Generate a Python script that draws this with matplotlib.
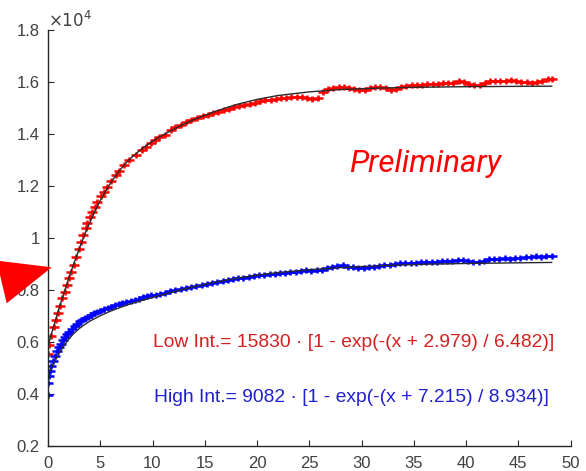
import matplotlib
matplotlib.use("Agg")
import matplotlib.pyplot as plt
from matplotlib.path import Path
from matplotlib.patches import Polygon

# ---- data ----
red_x = [0.0, 0.1, 0.25, 0.57, 0.73, 0.96, 1.15, 1.37, 1.6, 1.8, 2.0, 2.23, 2.5, 2.7, 2.97,
         3.13, 3.38, 3.6, 3.77, 4.0, 4.25, 4.47, 4.73, 5.05, 5.36, 5.68, 6.0, 6.5, 6.8, 7.3,
         7.75, 8.4, 9.0, 9.4, 9.83, 10.2, 10.6, 11.2, 11.75, 12.2, 12.7, 13.2, 13.7, 14.3,
         14.8, 15.3, 15.8, 16.3, 16.8, 17.3, 17.8,
         18.3, 18.8, 19.3, 19.8, 20.3, 20.8, 21.3, 21.8, 22.3, 22.8, 23.3, 23.8, 24.3, 24.8,
         25.3, 25.8, 26.3, 26.8, 27.3, 27.8, 28.3, 28.8, 29.3, 29.8, 30.3, 30.8, 31.3, 31.8,
         32.3, 32.8, 33.3, 33.8, 34.3, 34.8, 35.3, 35.8, 36.3, 36.8, 37.3, 37.8, 38.3, 38.8,
         39.3, 39.8, 40.3, 40.8, 41.3, 41.8, 42.3, 42.8, 43.3, 43.8, 44.3, 44.8, 45.3, 45.8,
         46.3, 46.8, 47.3, 47.8, 48.2]
red_y = [5540, 5900, 6230, 6570, 6850, 7130, 7380, 7680, 7930, 8190, 8450, 8700, 8960, 9280, 9560,
         9860, 10120, 10370, 10590, 10820, 11010, 11200, 11400, 11620, 11780, 11970, 12200, 12420, 12590, 12810,
         13000, 13190, 13380, 13500, 13640, 13760, 13900, 13980, 14150, 14250, 14350, 14450, 14540, 14600,
         14680, 14740, 14800, 14860, 14920, 14970, 15020,
         15070, 15120, 15170, 15210, 15250, 15290, 15320, 15350, 15380, 15400, 15420, 15440, 15440, 15400,
         15360, 15380, 15620, 15740, 15780, 15810, 15820, 15780, 15730, 15710, 15690, 15750, 15800, 15820,
         15750, 15690, 15720, 15800, 15860, 15880, 15880, 15900, 15910, 15920, 15930, 15950, 15960, 15980,
         16030, 16000, 15940, 15900, 15880, 15950, 16020, 16040, 16030, 16050, 16080, 16040, 16010, 16000,
         15980, 16000, 16040, 16100, 16120]

blue_x = [0.0, 0.0, 0.1, 0.2, 0.3, 0.45, 0.65, 0.85, 1.05, 1.25, 1.45, 1.65, 1.85, 2.05, 2.3,
          2.55, 2.8, 3.05, 3.3, 3.55, 3.8, 4.1, 4.4, 4.7, 5.0, 5.35, 5.7, 6.05, 6.4, 6.75,
          7.1, 7.5, 7.9, 8.3, 8.7, 9.1, 9.5, 9.9, 10.3, 10.7, 11.2, 11.7, 12.2, 12.7, 13.2,
          13.7, 14.2, 14.7, 15.2, 15.7, 16.2, 16.7, 17.2, 17.7, 18.2, 18.7, 19.2, 19.7, 20.2,
          20.7, 21.2, 21.7, 22.2, 22.7, 23.2, 23.7, 24.2, 24.7, 25.2, 25.7, 26.2, 26.7, 27.2,
          27.7, 28.2, 28.7, 29.2, 29.7, 30.2, 30.7, 31.2, 31.7, 32.2, 32.7, 33.2, 33.7, 34.2,
          34.7, 35.2, 35.7, 36.2, 36.7, 37.2, 37.7, 38.2, 38.7, 39.2, 39.7, 40.2, 40.7, 41.2,
          41.7, 42.2, 42.7, 43.2, 43.7, 44.2, 44.7, 45.2, 45.7, 46.2, 46.7, 47.2, 47.7, 48.2]
blue_y = [3960, 4440, 4700, 4900, 5090, 5280, 5480, 5650, 5800, 5940, 6070, 6190, 6300, 6400, 6510,
          6610, 6700, 6790, 6860, 6920, 6980, 7040, 7100, 7150, 7200, 7260, 7310, 7360, 7410, 7450,
          7490, 7540, 7580, 7630, 7670, 7720, 7760, 7790, 7820, 7860, 7900, 7950, 8000, 8050, 8080,
          8120, 8150, 8190, 8230, 8270, 8310, 8350, 8390, 8420, 8450, 8480, 8510, 8540, 8560,
          8590, 8610, 8630, 8650, 8670, 8690, 8700, 8730, 8760, 8750, 8760, 8780, 8830, 8900,
          8930, 8950, 8890, 8870, 8860, 8860, 8870, 8900, 8930, 8960, 8980, 9000, 9030, 9020,
          9040, 9050, 9060, 9070, 9080, 9090, 9100, 9100, 9130, 9160, 9140, 9100, 9070, 9070,
          9120, 9180, 9200, 9210, 9220, 9200, 9230, 9250, 9270, 9270, 9290, 9280, 9300, 9310]

# fitted curves as drawn on the chart
low_fit_x = [0, 0.5, 1, 1.5, 2, 2.5, 3, 3.5, 4, 4.5, 5, 5.5, 6, 6.5, 7, 7.5, 8, 9, 10, 11,
             12, 13, 14, 16, 18, 20, 22, 25, 28, 32, 36, 40, 44, 48.2]
low_fit_y = [5850, 6550, 7220, 7860, 8470, 9050, 9600, 10120, 10600, 11040, 11440, 11800,
             12120, 12410, 12670, 12900, 13100, 13440, 13720, 13960, 14180, 14380, 14560,
             14870, 15130, 15330, 15480, 15620, 15710, 15770, 15800, 15820, 15830, 15840]
high_fit_x = [0.2, 0.5, 1, 1.5, 2, 2.5, 3, 3.5, 4, 5, 6, 7, 8, 9, 10, 12, 14, 16, 18, 20,
              22, 25, 28, 32, 36, 40, 44, 48.2]
high_fit_y = [4900, 5150, 5520, 5850, 6120, 6340, 6520, 6670, 6800, 7010, 7190, 7340, 7480,
              7600, 7710, 7930, 8130, 8300, 8450, 8570, 8670, 8780, 8860, 8940, 8990, 9020,
              9040, 9060]

x_ticks = [0, 5, 10, 15, 20, 25, 30, 35, 40, 45, 50]
y_ticks = [2000, 4000, 6000, 8000, 10000, 12000, 14000, 16000, 18000]
y_tick_labels = ["0.2", "0.4", "0.6", "0.8", "1", "1.2", "1.4", "1.6", "1.8"]

low_label = "Low Int.= 15830 · [1 - exp(-(x + 2.979) / 6.482)]"
high_label = "High Int.= 9082 · [1 - exp(-(x + 7.215) / 8.934)]"

# ---- figure ----
W, H = 586, 471
fig = plt.figure(figsize=(W / 100, H / 100), dpi=100)
ax = fig.add_axes([48 / W, 1 - 446 / H, 522.5 / W, 416 / H])

plus_wide = Path([(-1, 0), (1, 0), (0, -0.6), (0, 0.6)],
                 [Path.MOVETO, Path.LINETO, Path.MOVETO, Path.LINETO])

ax.plot(red_x, red_y, linestyle="none", marker=plus_wide, markersize=7,
        markeredgewidth=1.8, color="#ff0000", zorder=2)
ax.plot(blue_x, blue_y, linestyle="none", marker=plus_wide, markersize=7,
        markeredgewidth=1.8, color="#0000ff", zorder=2)

ax.plot(low_fit_x, low_fit_y, color="#2a2a2a", lw=1.0, zorder=3)
ax.plot(high_fit_x, high_fit_y, color="#2a2a2a", lw=1.0, zorder=3)

ax.set_xlim(0, 50)
ax.set_ylim(2000, 18000)
ax.set_xticks(x_ticks)
ax.set_xticklabels([str(v) for v in x_ticks])
ax.set_yticks(y_ticks)
ax.set_yticklabels(y_tick_labels)

for s in ["top", "right"]:
    ax.spines[s].set_visible(False)
for s in ["left", "bottom"]:
    ax.spines[s].set_color("#262626")
    ax.spines[s].set_linewidth(1.0)
ax.tick_params(direction="in", length=4, width=0.8, colors="#262626",
               labelcolor="#404040", labelsize=12)
ax.tick_params(axis="y", pad=6)
ax.tick_params(axis="x", pad=7)
for lab in ax.get_xticklabels() + ax.get_yticklabels():
    lab.set_family("Liberation Sans")

ax.text(0.0, 1.0, r"$\times10^{4}$", transform=ax.transAxes, ha="left", va="bottom",
        fontsize=12, color="#404040", family="Liberation Sans")

# annotations
ax.text((349 - 48) / 522.5, 1 - (172 - 30) / 416, "Preliminary",
        transform=ax.transAxes, ha="left", va="baseline", fontsize=22.5, style="italic",
        color="#ff0000", family="Roboto")
ax.text((153 - 48) / 522.5, 1 - (347 - 30) / 416, low_label, transform=ax.transAxes,
        ha="left", va="baseline", fontsize=13.9, color="#d42020", family="Liberation Sans")
ax.text((154 - 48) / 522.5, 1 - (402 - 30) / 416, high_label, transform=ax.transAxes,
        ha="left", va="baseline", fontsize=13.9, color="#2020d0", family="Liberation Sans")

# red arrow pointing at the axis
arrow_px = [(0, 261), (51.7, 267.3), (6.7, 303.3), (0, 275)]
arrow = Polygon([(x / W, 1 - y / H) for x, y in arrow_px], closed=True,
                transform=fig.transFigure, facecolor="#ff0000", edgecolor="none", zorder=5)
fig.patches.append(arrow)

fig.savefig("out.png", dpi=100)
